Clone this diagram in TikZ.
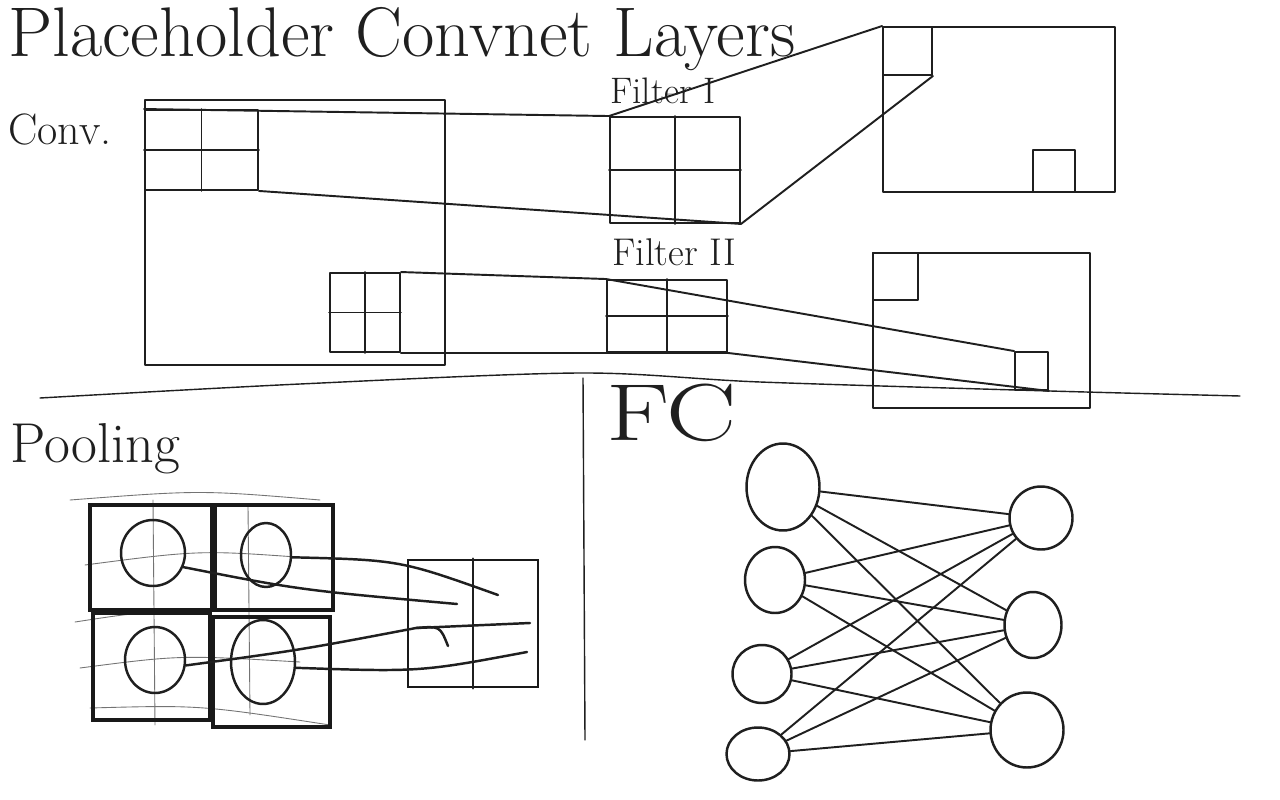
\documentclass[tikz,border=0pt]{standalone}
\usetikzlibrary{shapes.geometric,fit,calc}
\begin{document}
\begin{tikzpicture}[x=0.02cm,y=-0.02cm,
  ink/.style={line width=1.1pt,line cap=round,line join=round,black!88},
  box/.style={draw,ink,rectangle,inner sep=0pt},
  heavy/.style={draw,line width=1.8pt,rectangle,inner sep=0pt,black!90},
  guide/.style={line width=0.5pt,black!55,line cap=round},
  neuron/.style={draw,ink,line width=1.4pt,ellipse,inner sep=0pt},
  lbl/.style={inner sep=0pt,anchor=base west,black!88}]
\fill[white] (0,0) rectangle (1280,800);
\useasboundingbox (0,0) rectangle (1280,800);

% ---------- labels ----------
\node[lbl,font=\fontsize{40}{44}\selectfont] (title) at (8,57) {Placeholder Convnet Layers};
\node[lbl,font=\fontsize{25}{28}\selectfont] (convl) at (8,145) {Conv.};
\node[lbl,font=\fontsize{21}{24}\selectfont] (f1l) at (610,104) {Filter I};
\node[lbl,font=\fontsize{22}{25}\selectfont] (f2l) at (612,266) {Filter II};
\node[lbl,font=\fontsize{32}{36}\selectfont] (pooll) at (10,462) {Pooling};
\node[lbl,font=\fontsize{46}{50}\selectfont] (fcl) at (606,440) {\scalebox{1.3}[1]{FC}};

% ---------- dividers ----------
\draw[ink,line width=0.8pt] plot[smooth] coordinates {(40,398) (300,384) (580,373) (760,382) (1050,391) (1240,396)};
\draw[ink,line width=0.8pt] (583,378) -- (585,740);

% ---------- convolution ----------
\node[box,fit={(145,100) (445,365)}] (conv) {};
\node[box,fit={(145,110) (258,190)}] (win1) {};
\draw[ink] (win1.north) -- (win1.south) (win1.west) -- (win1.east);
\node[box,fit={(330,273) (400,352)}] (win2) {};
\draw[ink] (win2.north) -- (win2.south) (win2.west) -- (win2.east);

\node[box,fit={(610,117) (740,223)}] (f1) {};
\draw[ink] (f1.north) -- (f1.south) (f1.west) -- (f1.east);
\node[box,fit={(607,280) (727,352)}] (f2) {};
\draw[ink] (f2.north) -- (f2.south) (f2.west) -- (f2.east);

\node[box,fit={(883,27) (1115,192)}] (out1) {};
\node[box,fit={(883,27) (932,75)}] (o1a) {};
\node[box,fit={(1033,150) (1075,192)}] (o1b) {};
\node[box,fit={(873,253) (1090,408)}] (out2) {};
\node[box,fit={(873,253) (918,300)}] (o2a) {};
\node[box,fit={(1015,352) (1048,390)}] (o2b) {};

\draw[ink] (win1.north west) -- (f1.north west);
\draw[ink] (win1.south east) -- (f1.south east);
\draw[ink] (f1.north west) -- (o1a.north west);
\draw[ink] (f1.south east) -- (o1a.south east);
\draw[ink] (win2.north east) -- (f2.north west);
\draw[ink] (win2.south east) -- (f2.south east);
\draw[ink] (f2.north west) -- (o2b.north west);
\draw[ink] (f2.south east) -- (o2b.south east);

% ---------- pooling ----------
\draw[guide] (70,500) .. controls (200,490) .. (320,500);
\draw[guide] (153,500) -- (155,725);
\draw[guide] (248,505) -- (250,715);
\draw[guide] (85,565) .. controls (200,550) .. (310,558);
\draw[guide] (75,622) .. controls (140,612) .. (205,612);
\draw[guide] (80,668) .. controls (180,655) .. (300,662);
\draw[guide] (90,708) .. controls (200,705) .. (330,725);

\node[heavy,fit={(90,505) (212,610)}] (p1) {};
\node[heavy,fit={(215,505) (333,610)}] (p2) {};
\node[heavy,fit={(93,613) (210,720)}] (p3) {};
\node[heavy,fit={(213,617) (330,727)}] (p4) {};
\node[neuron,minimum width=1.28cm,minimum height=1.32cm] (c1) at (153,553) {};
\node[neuron,minimum width=1.0cm,minimum height=1.28cm] (c2) at (266,555) {};
\node[neuron,minimum width=1.2cm,minimum height=1.32cm] (c3) at (155,660) {};
\node[neuron,minimum width=1.28cm,minimum height=1.68cm] (c4) at (263,662) {};

\node[heavy,line width=1.4pt,fit={(408,560) (538,687)}] (po) {};
\draw[ink,line width=1.6pt] (po.north) -- (po.south);
\coordinate (e1) at (457,604);
\coordinate (e2) at (498,595);
\coordinate (e3) at (416,628);
\coordinate (e3b) at (530,623);
\coordinate (e3c) at (448,646);
\coordinate (e4) at (527,652);
\draw[ink,line width=1.4pt] (c1.-25) .. controls (300,590) .. (e1);
\draw[ink,line width=1.4pt] (c2.-5) .. controls (400,560) .. (e2);
\draw[ink,line width=1.4pt] (c3.-10) .. controls (300,650) .. (e3) -- (e3b);
\draw[ink,line width=1.4pt] (e3) .. controls (440,626) .. (e3c);
\draw[ink,line width=1.4pt] (c4.-10) .. controls (420,672) .. (e4);

% ---------- fully connected ----------
\node[neuron,minimum width=1.46cm,minimum height=1.74cm] (l1) at (783,487) {};
\node[neuron,minimum width=1.2cm,minimum height=1.32cm] (l2) at (775,580) {};
\node[neuron,minimum width=1.18cm,minimum height=1.16cm] (l3) at (762,674) {};
\node[neuron,minimum width=1.26cm,minimum height=1.06cm] (l4) at (758,754) {};
\node[neuron,minimum width=1.26cm,minimum height=1.26cm] (r1) at (1041,518) {};
\node[neuron,minimum width=1.14cm,minimum height=1.32cm] (r2) at (1033,625) {};
\node[neuron,minimum width=1.46cm,minimum height=1.5cm] (r3) at (1027,730) {};
\foreach \a in {l1,l2,l3,l4}{
  \foreach \b in {r1,r2,r3}{
    \draw[ink] (\a) -- (\b);
  }
}
\end{tikzpicture}
\end{document}
